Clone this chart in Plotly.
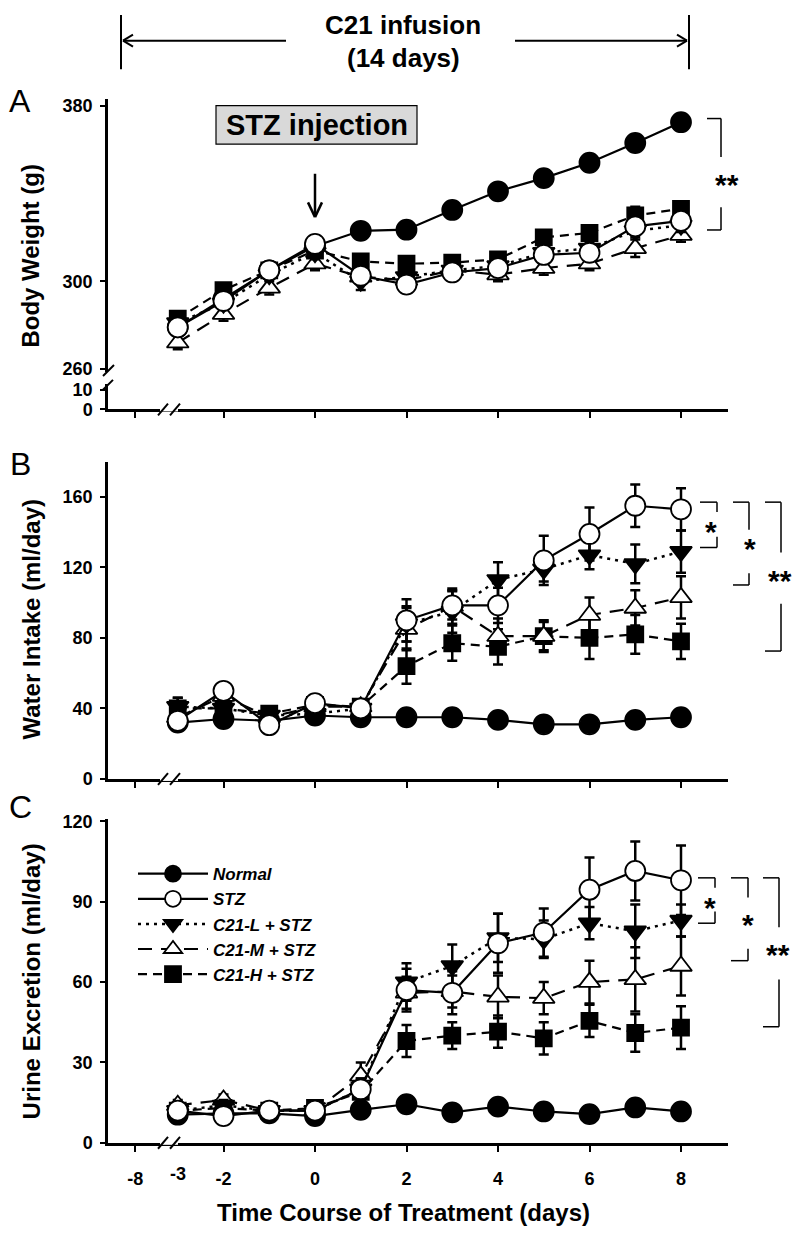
import plotly.graph_objects as go

# ---------------- data ----------------
days = [-3, -2, -1, 0, 1, 2, 3, 4, 5, 6, 7, 8]
group_names = ["Normal", "STZ", "C21-L + STZ", "C21-M + STZ", "C21-H + STZ"]

# Panel A: body weight (g)
bw_normal = [279, 292, 305, 316, 323, 323.5, 332.5, 341, 347, 354, 363, 372.5]
bw_stz    = [279, 291, 305, 317, 302.5, 298.5, 304, 306, 312, 313, 325, 327.5]
bw_c21l   = [281, 290, 303, 313, 300, 302, 305, 307, 313, 315, 323, 325.5]
bw_c21m   = [272, 285, 297, 308, 302, 300.5, 305, 303, 306, 308, 315, 321]
bw_c21h   = [283, 296, 305, 314, 309, 308, 308.5, 310, 320, 322, 330, 333]
bw_err_normal = [2, 2, 2, 2, 2, 2, 2, 2, 2, 2, 2, 2]
bw_err_stz    = [3, 3, 2, 3, 3, 3, 2, 3, 3, 3, 3, 3]
bw_err_c21l   = [3, 3, 2, 3, 4, 3, 2, 3, 3, 3, 3, 3]
bw_err_c21m   = [3, 3, 3, 3, 3, 3, 3, 3, 3, 3, 4, 3]
bw_err_c21h   = [3, 3, 2, 3, 3, 3, 2, 3, 3, 3, 4, 3]

# Panel B: water intake (ml/day)
wi_normal = [32, 34, 33, 36, 35, 35, 35, 33.5, 31, 31, 33.5, 35]
wi_stz    = [33, 50, 30.5, 43, 40, 90, 98.5, 98.5, 124, 139, 155, 153]
wi_c21l   = [41, 40, 36, 37, 40, 88, 95, 113, 119, 127, 122, 129]
wi_c21m   = [35, 47, 35, 41, 41, 85, 98, 81, 81, 93, 97, 103]
wi_c21h   = [40, 40, 37, 42, 41, 64, 77, 75, 81, 80, 82, 78]
wi_err_normal = [2, 2, 2, 2, 2, 2, 2, 2, 2, 2, 2, 2]
wi_err_stz    = [3, 4, 3, 3, 4, 12, 8, 10, 14, 15, 12, 12]
wi_err_c21l   = [5, 4, 3, 3, 5, 10, 12, 10, 7, 8, 11, 12]
wi_err_c21m   = [4, 4, 3, 3, 4, 12, 10, 10, 8, 10, 10, 12]
wi_err_c21h   = [6, 4, 3, 3, 4, 10, 10, 10, 9, 12, 11, 10]

# Panel C: urine excretion (ml/day)
ue_normal = [10.5, 11, 11, 10, 12.3, 14.4, 11.4, 13.5, 11.7, 10.7, 13.2, 11.7]
ue_stz    = [12, 10, 12, 12, 20, 57, 56, 74.5, 78.5, 94.5, 101.5, 98]
ue_c21l   = [12, 14, 12, 12, 20, 60, 66, 76.5, 76, 82, 79, 83]
ue_c21m   = [14, 16, 12, 12, 25, 56, 56.5, 54.5, 54, 60, 61, 66]
ue_c21h   = [12, 13, 12, 13, 19, 38, 40, 41.5, 39, 45.5, 41, 43]
ue_err_normal = [1, 1, 1, 1, 1, 1, 1, 1, 1, 1, 1, 1]
ue_err_stz    = [2, 2, 2, 2, 4, 8, 8, 11, 9, 12, 11, 13]
ue_err_c21l   = [2, 2, 2, 2, 4, 7, 8, 9, 7, 6, 10, 6]
ue_err_c21m   = [2, 2, 2, 2, 5, 6, 6, 8, 6, 8, 12, 11]
ue_err_c21h   = [2, 2, 2, 2, 4, 6, 5, 6, 6, 6, 7, 8]

# axis tick definitions
x_tickvals = [-3.93, -2, 0, 2, 4, 6, 8]
x_ticktext = ["-8", "-2", "0", "2", "4", "6", "8"]
a_tickvals = [260, 300, 380]
a_low_tickvals = [0, 10]
b_tickvals = [0, 40, 80, 120, 160]
c_tickvals = [0, 30, 60, 90, 120]

# ---------------- geometry helpers (page pixels -> paper) ----------------
OFF = 8                       # default body margin of the html page
FW, FH = 800 - 2 * OFF, 1240 - 2 * OFF
def PX(x): return (x - OFF) / FW
def PY(y): return 1 - (y - OFF) / FH

FONT = "Liberation Sans, Arial, sans-serif"
styles = {
    "Normal":      dict(symbol="circle", size=20, color="black", dash="solid", rank=1),
    "STZ":         dict(symbol="circle", size=20, color="white", dash="solid", rank=2),
    "C21-L + STZ": dict(symbol="triangle-down", size=19, color="black", dash="3px,5px", rank=3),
    "C21-M + STZ": dict(symbol="triangle-up", size=19, color="white", dash="14px,9px", rank=4),
    "C21-H + STZ": dict(symbol="square", size=16, color="black", dash="9px,6px", rank=5),
}
draw_order = ["C21-H + STZ", "C21-M + STZ", "C21-L + STZ", "Normal", "STZ"]

panels = [
    ("x", "y", {"Normal": (bw_normal, bw_err_normal), "STZ": (bw_stz, bw_err_stz),
                "C21-L + STZ": (bw_c21l, bw_err_c21l), "C21-M + STZ": (bw_c21m, bw_err_c21m),
                "C21-H + STZ": (bw_c21h, bw_err_c21h)}, False),
    ("x2", "y3", {"Normal": (wi_normal, wi_err_normal), "STZ": (wi_stz, wi_err_stz),
                  "C21-L + STZ": (wi_c21l, wi_err_c21l), "C21-M + STZ": (wi_c21m, wi_err_c21m),
                  "C21-H + STZ": (wi_c21h, wi_err_c21h)}, False),
    ("x3", "y4", {"Normal": (ue_normal, ue_err_normal), "STZ": (ue_stz, ue_err_stz),
                  "C21-L + STZ": (ue_c21l, ue_err_c21l), "C21-M + STZ": (ue_c21m, ue_err_c21m),
                  "C21-H + STZ": (ue_c21h, ue_err_c21h)}, True),
]

fig = go.Figure()
# empty trace so the lower (0-10) segment of panel A gets its own subplot
fig.add_trace(go.Scatter(x=[], y=[], xaxis="x", yaxis="y2", showlegend=False,
                         hoverinfo="skip"))
for xa, ya, data, show in panels:
    for name in draw_order:
        st = styles[name]
        vals, errs = data[name]
        fig.add_trace(go.Scatter(
            x=days, y=vals, xaxis=xa, yaxis=ya, name=name,
            mode="lines+markers", showlegend=show, legendrank=st["rank"],
            line=dict(color="black", width=2.5 if name == "C21-L + STZ" else 2.2,
                      dash=st["dash"]),
            marker=dict(symbol=st["symbol"], size=st["size"], color=st["color"],
                        line=dict(color="black", width=1.8)),
            error_y=dict(type="data", array=errs, visible=True, color="black",
                         thickness=2.5, width=5),
            cliponaxis=False,
        ))

tickfont = dict(family=FONT, size=18, color="black", weight="bold")
x_dom = [PX(108), PX(728)]
x_rng = [(108 - 315) / 45.75, (728 - 315) / 45.75]
xcommon = dict(domain=x_dom, range=x_rng, tickvals=x_tickvals, ticktext=x_ticktext,
               ticks="outside", ticklen=6, tickwidth=2, tickcolor="black",
               showline=True, linewidth=2.5, linecolor="black", showgrid=False,
               zeroline=False, tickfont=tickfont, ticklabelstandoff=12)
ycommon = dict(ticks="outside", ticklen=5, tickwidth=2, tickcolor="black",
               showline=True, linewidth=2.5, linecolor="black", showgrid=False,
               zeroline=False, tickfont=tickfont, ticklabelstandoff=4)

fig.update_layout(
    width=FW, height=FH, margin=dict(l=0, r=0, t=0, b=0),
    paper_bgcolor="white", plot_bgcolor="rgba(0,0,0,0)",
    xaxis=dict(**xcommon, anchor="y2", showticklabels=False),
    xaxis2=dict(**xcommon, anchor="y3", showticklabels=False, matches="x"),
    xaxis3=dict(**xcommon, anchor="y4", showticklabels=True, matches="x"),
    yaxis=dict(**ycommon, domain=[PY(370), PY(93)], anchor="x",
               range=[260 - 3 / 2.225, 380 + 7 / 2.225], tickvals=a_tickvals),
    yaxis2=dict(**ycommon, domain=[PY(408), PY(382)], anchor="x",
                range=[0, 13], tickvals=a_low_tickvals),
    yaxis3=dict(**ycommon, domain=[PY(782.7), PY(461.7)], anchor="x2",
                range=[0, 179.6], tickvals=b_tickvals),
    yaxis4=dict(**ycommon, domain=[PY(1151.7), PY(823)], anchor="x3",
                range=[0, 121], tickvals=c_tickvals),
    legend=dict(x=PX(133), y=PY(861), xanchor="left", yanchor="top",
                bgcolor="rgba(0,0,0,0)", itemwidth=70, traceorder="normal",
                font=dict(family=FONT, size=17, color="black", weight="bold", style="italic")),
    showlegend=True,
)

ann = []
shapes = []

def line(x0, y0, x1, y1, w=2, color="black"):
    shapes.append(dict(type="line", xref="paper", yref="paper",
                       x0=PX(x0), y0=PY(y0), x1=PX(x1), y1=PY(y1),
                       line=dict(color=color, width=w)))

def text(x, y, s, size, bold=True, italic=False, angle=0, family=FONT):
    ann.append(dict(xref="paper", yref="paper", x=PX(x), y=PY(y), text=s,
                    showarrow=False, xanchor="center", yanchor="middle",
                    textangle=angle,
                    font=dict(family=family, size=size, color="black",
                              weight="bold" if bold else "normal",
                              style="italic" if italic else "normal")))

# top "C21 infusion" span
text(403, 18, "C21 infusion", 26)
text(403, 52, "(14 days)", 26)
line(121, 8, 121, 63, 2)
line(689, 8, 689, 63, 2)
line(123, 34, 286, 34, 2)
line(515, 34, 687, 34, 2)
line(123, 34, 133, 28, 2); line(123, 34, 133, 40, 2)
line(687, 34, 677, 28, 2); line(687, 34, 677, 40, 2)

# panel letters
text(20, 95, "A", 32, bold=False)
text(20, 463, "B", 32, bold=False)
text(20, 811, "C", 32, bold=False)

# y-axis titles
text(31, 252, "Body Weight (g)", 24, angle=-90)
text(31, 621, "Water Intake (ml/day)", 24, angle=-90)
text(31, 988, "Urine Excretion (ml/day)", 24, angle=-90)
# x-axis title
text(403, 1222, "Time Course of Treatment (days)", 24)
# extra -3 tick label
ann.append(dict(xref="x3", yref="paper", x=-3, y=PY(1183), text="-3", showarrow=False,
                xanchor="center", yanchor="middle",
                font=dict(family=FONT, size=18, color="black", weight="bold")))

# STZ injection box and arrow
shapes.append(dict(type="rect", xref="paper", yref="paper",
                   x0=PX(216), y0=PY(100), x1=PX(417), y1=PY(139),
                   fillcolor="#d9d9d9", line=dict(color="black", width=1.2), layer="below"))
text(316.5, 119.5, "STZ injection", 29)
line(315, 169, 315, 212, 2.5)
line(315, 213, 308, 198, 2.5); line(315, 213, 322, 198, 2.5)

# significance brackets
def bracket(xl, xr, top, bot, gap_top, gap_bot, label, lx, ly, size=30):
    line(xl, top, xr, top, 1.5)
    line(xl, bot, xr, bot, 1.5)
    line(xr, top, xr, gap_top, 1.5)
    line(xr, gap_bot, xr, bot, 1.5)
    text(lx, ly + 8, label, size)

bracket(707, 721, 113, 226, 152, 203, "**", 727, 172)
bracket(700, 717, 502, 548, 512, 537, "*", 711, 524)
bracket(733, 749, 502, 586, 530, 574, "*", 750, 541)
bracket(765, 781, 502, 653, 553, 605, "**", 780, 573)
bracket(698, 715, 883, 929, 893, 917, "*", 710, 905)
bracket(731, 748, 883, 967, 903, 955, "*", 748, 922)
bracket(763, 779, 883, 1034, 933, 986, "**", 778, 953)

# axis break marks on x axes
for ay in (408, 782.7, 1151.7):
    line(160, ay, 178, ay, 4, "white")
    for cx in (163, 175):
        line(cx - 5, ay + 6, cx + 5, ay - 6, 2)
# y-axis break marks in panel A
line(103, 374, 114, 363, 2)
line(103, 388, 113, 378, 2)

fig.update_layout(annotations=ann, shapes=shapes)
fig.write_html("out.html")
